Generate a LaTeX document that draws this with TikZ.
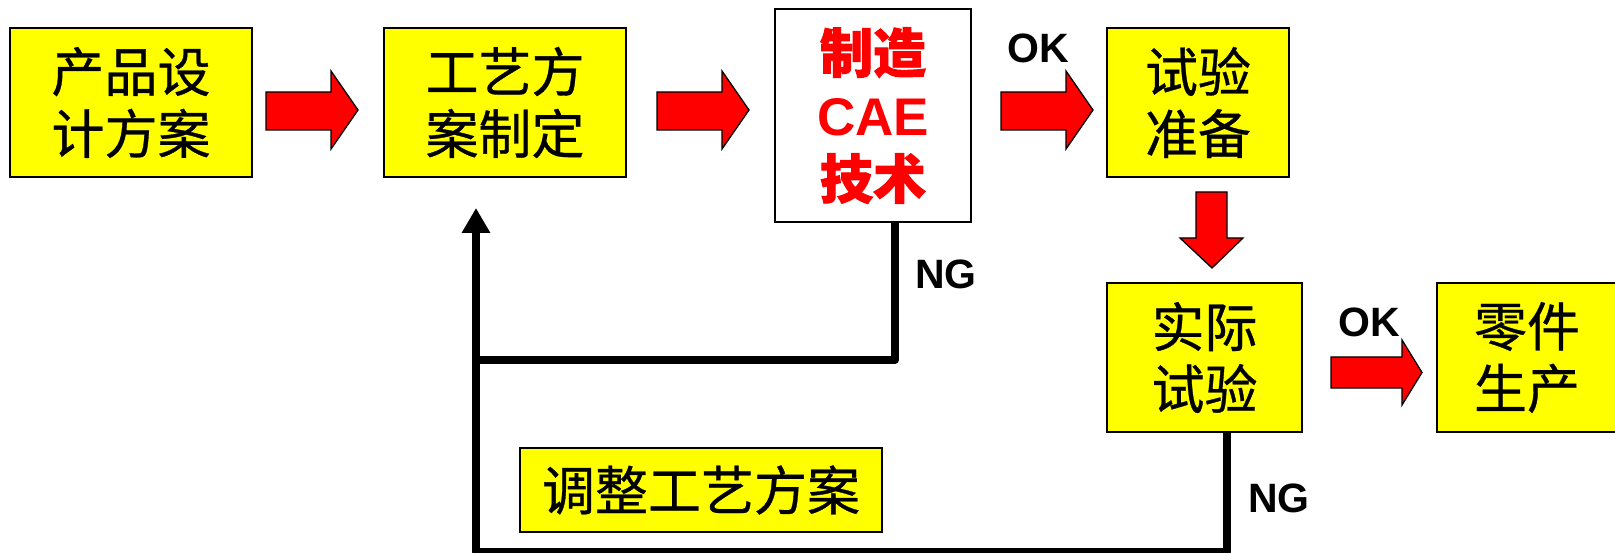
\documentclass[tikz,border=0pt]{standalone}
\usepackage{fontspec}
\setmainfont{Liberation Sans}
\newfontfamily\cjk[FakeBold=0.6]{Noto Sans CJK SC}
\newfontfamily\cjkb[FakeBold=1.8]{Noto Sans CJK SC}
\usetikzlibrary{arrows.meta,calc}
\definecolor{boxyellow}{RGB}{255,255,0}
\definecolor{arrred}{RGB}{255,0,0}
\tikzset{
  x=1pt, y=-1pt,
  ybox/.style={draw=black, line width=2.6pt, fill=boxyellow, inner sep=0pt,
    align=center, font=\cjk\fontsize{53}{62}\selectfont},
  wbox/.style={draw=black, line width=2.2pt, fill=white, inner sep=0pt,
    align=center, text=arrred, font=\fontsize{53}{63}\selectfont\bfseries},
  blockarrow/.style={fill=arrred, draw=black, line width=1.3pt, line join=miter},
  ngline/.style={draw=black, line width=8pt, line join=round},
  lbl/.style={font=\fontsize{41}{41}\selectfont\bfseries, inner sep=0pt},
  harrow/.pic={
    \draw[blockarrow] (0,-18) -- (65,-18) -- (65,-39) -- (92,0) -- (65,39)
      -- (65,20) -- (0,20) -- cycle;
  }
}
\begin{document}
\begin{tikzpicture}
\useasboundingbox (0,0) rectangle (1615,553);

% boxes
\node[ybox, minimum width=242pt, minimum height=149pt] (b1) at (131,102.5)
  {产品设\\计方案};
\node[ybox, minimum width=242pt, minimum height=149pt] (b2) at (505,102.5)
  {工艺方\\案制定};
\node[wbox, minimum width=196pt, minimum height=213pt] (b3) at (873,115.5)
  {{\cjkb 制造}\\CAE\\{\cjkb 技术}};
\node[ybox, minimum width=182pt, minimum height=149pt] (b4) at (1198,102.5)
  {试验\\准备};
\node[ybox, minimum width=195pt, minimum height=149pt] (b5) at (1204.5,357.5)
  {实际\\试验};
\node[ybox, minimum width=180pt, minimum height=149pt] (b6) at (1527,357.5)
  {零件\\生产};
\node[ybox, minimum width=362pt, minimum height=84pt] (b7) at (701,490)
  {调整工艺方案};

% red block arrows
\pic at (266,110) {harrow};
\pic at (657,110) {harrow};
\pic at (1001,110) {harrow};
\draw[blockarrow] (1331,357) -- (1402,357) -- (1402,340) -- (1422,372.5)
  -- (1402,405) -- (1402,388) -- (1331,388) -- cycle;
\draw[blockarrow] (1196,192) -- (1227,192) -- (1227,238) -- (1243,238)
  -- (1212,268) -- (1180,238) -- (1196,238) -- cycle;

% labels
\node[lbl] (ok1) at (1038,48) {OK};
\node[lbl] (ok2) at (1369,322) {OK};
\node[lbl] (ng1) at (946,274) {NG};
\node[lbl] (ng2) at (1279,498) {NG};

% feedback lines
\coordinate (fb) at (476,208);
\coordinate (midy) at (0,360);
\coordinate (lowy) at (0,552);
\draw[ngline] ([xshift=22pt]b3.south) |- (fb |- midy);
\draw[ngline, -{Triangle[width=27pt,length=25pt]}]
  ([xshift=22.5pt]b5.south) |- (fb |- lowy) -- (fb);
\end{tikzpicture}
\end{document}
